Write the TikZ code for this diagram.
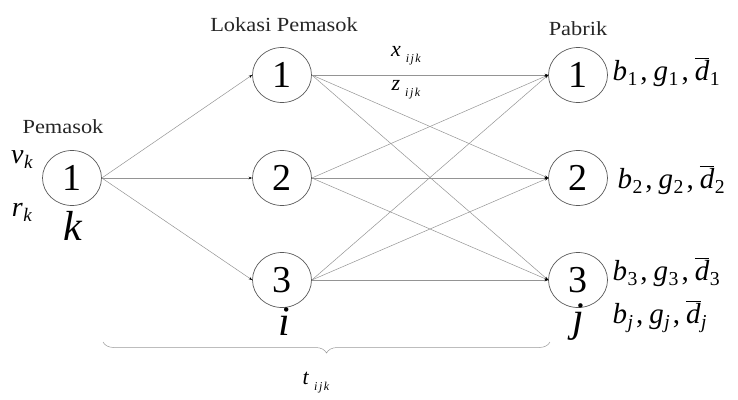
\documentclass[tikz,border=0pt]{standalone}
\usepackage{fontspec}
\setmainfont{Liberation Serif}
\newfontfamily\labfont[FakeStretch=1.12]{Liberation Serif}
\usetikzlibrary{shapes.geometric,arrows.meta,decorations.pathreplacing}
\newcommand\vsub[2]{\textit{#1}\kern0.5pt\raisebox{-0.4ex}{\scalebox{0.68}{#2}}}
\newcommand\dbar[1]{\ensuremath{\overline{\mbox{\textit{d}}}}\kern0.5pt\raisebox{-0.4ex}{\scalebox{0.68}{#1}}}
\newcommand\cm{\kern3pt,\kern6pt}
\begin{document}
\begin{tikzpicture}[x=1pt,y=-1pt,
  circ/.style={ellipse,draw=black!65,line width=0.7pt,minimum width=59pt,minimum height=55pt,inner sep=0pt,font=\fontsize{38}{38}\selectfont},
  edge/.style={draw=black!42,line width=0.5pt,-{Stealth[length=3.5pt,width=2.6pt,black]}},
  lab/.style={font=\labfont\fontsize{20}{20}\selectfont,text=black!85},
  idx/.style={font=\fontsize{42}{42}\selectfont\itshape},
  sub/.style={font=\fontsize{28}{28}\selectfont},
  small/.style={font=\fontsize{22}{22}\selectfont},
  rlab/.style={font=\fontsize{29}{29}\selectfont,anchor=base west}]
\useasboundingbox (0,0) rectangle (738,399);
\node[circ] (s1) at (72,178) {1};
\node[circ] (l1) at (282,75) {1};
\node[circ] (l2) at (282,178) {2};
\node[circ] (l3) at (282,280) {3};
\node[circ] (p1) at (578,75) {1};
\node[circ] (p2) at (578,178) {2};
\node[circ] (p3) at (578,280) {3};
\foreach \l in {l1,l2,l3}{\draw[edge] (s1.east) -- (\l.west);}
\foreach \l in {l1,l2,l3}{\foreach \p in {p1,p2,p3}{\draw[edge] (\l.east) -- (\p.west);}}
\node[lab] (tp) at (63,127) {Pemasok};
\node[lab] (tl) at (284,25) {Lokasi Pemasok};
\node[lab] (tf) at (578,29) {Pabrik};
\node[sub] (vk) at (22,160) {\vsub{v}{\textit{k}}};
\node[sub] (rk) at (22,212) {\vsub{r}{\textit{k}}};
\node[idx] (k) at (73,226) {k};
\node[idx] (i) at (284,322) {i};
\node[idx] (j) at (578,322) {j};
\node[small] (x) at (406,56) {\textit{x}\kern5pt\raisebox{-0.6ex}{\fontsize{12}{12}\selectfont\textit{i\kern1.5pt j\kern1.5pt k}}};
\node[small] (z) at (406,90) {\textit{z}\kern5pt\raisebox{-0.6ex}{\fontsize{12}{12}\selectfont\textit{i\kern1.5pt j\kern1.5pt k}}};
\node[small] (t) at (316,383) {\textit{t}\kern5pt\raisebox{-0.6ex}{\fontsize{12}{12}\selectfont\textit{i\kern1.5pt j\kern1.5pt k}}};
\node[rlab] (r1) at (609,80) {\vsub{b}{1}\cm\vsub{g}{1}\cm\dbar{1}};
\node[rlab] (r2) at (614,188) {\vsub{b}{2}\cm\vsub{g}{2}\cm\dbar{2}};
\node[rlab] (r3) at (609,280) {\vsub{b}{3}\cm\vsub{g}{3}\cm\dbar{3}};
\node[rlab] (rj) at (609,323) {\vsub{b}{\textit{j}}\cm\vsub{g}{\textit{j}}\cm\dbar{\textit{j}}};
\coordinate (bl) at (103,342);
\coordinate (br) at (550,342);
\draw[draw=black!40,line width=0.5pt,decorate,decoration={brace,mirror,amplitude=11pt}] (bl) -- (br);
\end{tikzpicture}
\end{document}
